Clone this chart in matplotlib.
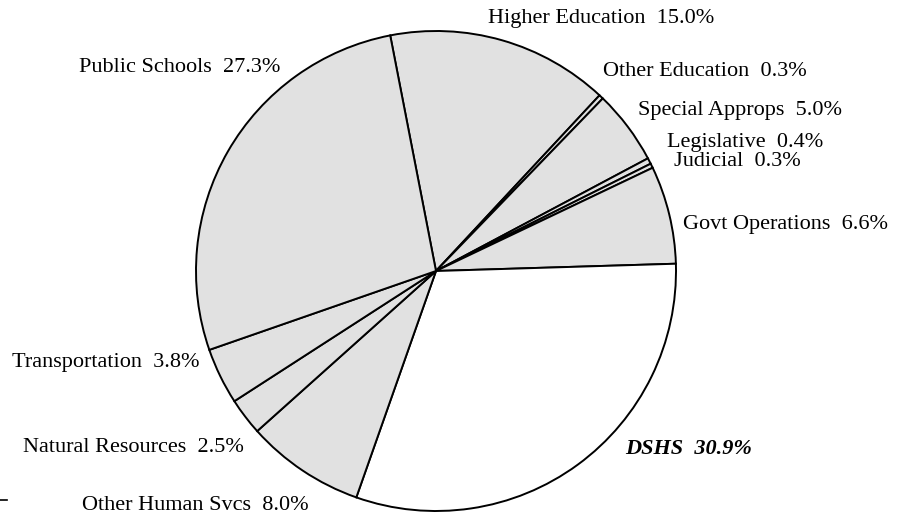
import matplotlib
matplotlib.use("Agg")
import matplotlib.pyplot as plt

categories = ["Higher Education", "Other Education", "Special Approps", "Legislative",
              "Judicial", "Govt Operations", "DSHS", "Other Human Svcs",
              "Natural Resources", "Transportation", "Public Schools"]
values = [15.0, 0.3, 5.0, 0.4, 0.3, 6.6, 30.9, 8.0, 2.5, 3.8, 27.3]
highlight = "DSHS"

# label anchor positions (left edge x, centre y) in pixel space
label_pos = {
    "Higher Education": (488, 19),
    "Other Education": (603, 71),
    "Special Approps": (638, 110),
    "Legislative": (667, 143),
    "Judicial": (674, 161),
    "Govt Operations": (683, 224),
    "DSHS": (625, 449),
    "Other Human Svcs": (82, 506),
    "Natural Resources": (23, 447),
    "Transportation": (12, 363),
    "Public Schools": (79, 68),
}

W, H = 904, 517
fig = plt.figure(figsize=(W / 100, H / 100), dpi=100)
ax = fig.add_axes([0, 0, 1, 1])

colors = ["white" if c == highlight else "#e1e1e1" for c in categories]
ax.pie(values, colors=colors, startangle=101, counterclock=False,
       center=(436, H - 271), radius=240,
       wedgeprops=dict(edgecolor="black", linewidth=1.4))

for c, v in zip(categories, values):
    x, y = label_pos[c]
    txt = f"{c}  {v:.1f}%"
    if c == highlight:
        ax.text(x, H - y, txt, ha="left", va="center", fontsize=16,
                family="Liberation Serif", weight="bold", style="italic")
    else:
        ax.text(x, H - y, txt, ha="left", va="center", fontsize=16,
                family="Liberation Serif")

# small stray tick at lower left of the original
ax.plot([0, 7], [H - 500, H - 500], color="black", linewidth=1.2)

ax.set_xlim(0, W)
ax.set_ylim(0, H)
ax.set_aspect("equal")
ax.axis("off")
fig.savefig("out.png", dpi=100)
